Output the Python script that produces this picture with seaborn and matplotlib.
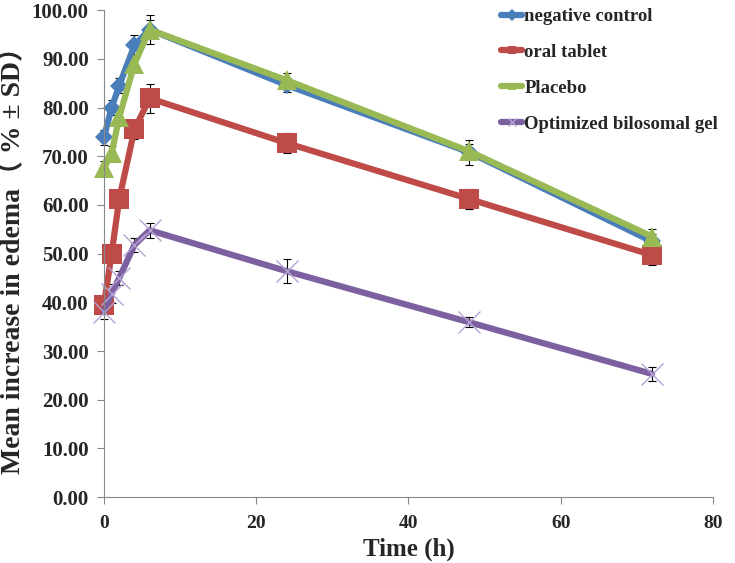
import matplotlib
matplotlib.use("Agg")
import matplotlib.pyplot as plt
import seaborn as sns
import pandas as pd
from matplotlib.lines import Line2D

time_h = [0, 1, 2, 4, 6, 24, 48, 72]
series_names = ["negative control", "oral tablet", "Placebo", "Optimized bilosomal gel"]
neg_control = [73.9, 80.0, 84.5, 92.8, 96.0, 84.6, 70.8, 52.5]
neg_control_sd = [1.5, 1.5, 1.5, 2.0, 3.0, 1.5, 2.5, 1.5]
oral_tablet = [39.5, 50.0, 61.2, 75.5, 81.9, 72.7, 61.2, 49.7]
oral_tablet_sd = [1.5, 1.5, 1.5, 2.0, 3.0, 2.0, 2.0, 2.0]
placebo = [67.5, 70.6, 78.0, 89.0, 96.0, 85.6, 71.0, 53.5]
placebo_sd = [1.5, 1.5, 1.5, 1.5, 2.0, 1.5, 1.5, 1.5]
bilosomal = [38.0, 41.8, 45.0, 51.8, 54.8, 46.4, 35.9, 25.3]
bilosomal_sd = [1.5, 2.0, 1.5, 1.5, 1.5, 2.5, 1.0, 1.5]

values = [neg_control, oral_tablet, placebo, bilosomal]
sds = [neg_control_sd, oral_tablet_sd, placebo_sd, bilosomal_sd]
colors = ["#4A7EBB", "#BE4B48", "#98B954", "#7D60A0"]
markers = ["D", "s", "^", "x"]
msizes = [9, 14, 14, 16]
mecs = ["#4A7EBB", "#BE4B48", "#98B954", "#B3A2D4"]

sns.set_theme(style="white")
plt.rcParams["font.family"] = ["Liberation Serif", "Noto Sans CJK SC", "DejaVu Sans"]
plt.rcParams["font.weight"] = "bold"

fig = plt.figure(figsize=(7.35, 5.63), dpi=100)
ax = fig.add_axes([0.1415, 0.117, 0.8285, 0.865])

for name, vals, sd, c, m, ms, mec in zip(series_names, values, sds, colors, markers, msizes, mecs):
    df = pd.DataFrame({"t": time_h, "v": vals})
    eb = ax.errorbar(time_h, vals, yerr=sd, fmt="none", ecolor="black", elinewidth=0.8,
                     capsize=3, capthick=0.8, zorder=1)
    for art in list(eb.lines[1]) + list(eb.lines[2]):
        art.set_clip_on(False)
    sns.lineplot(data=df, x="t", y="v", ax=ax, color=c, linewidth=4.5, marker=m,
                 markersize=ms, markeredgecolor=mec, markeredgewidth=1.0 if m == "x" else 0,
                 label=name, zorder=2, clip_on=False)

ax.set_xlim(0, 80)
ax.set_ylim(0, 100)
ax.set_xticks([0, 20, 40, 60, 80])
ax.set_yticks(range(0, 101, 10))
ax.set_yticklabels([f"{v:.2f}" for v in range(0, 101, 10)])
ax.tick_params(axis="both", direction="out", length=5, width=0.8,
               color="#888888", left=True, bottom=True)
ax.tick_params(axis="y", labelsize=15, pad=6)
ax.tick_params(axis="x", labelsize=14, pad=8)
for lab in ax.get_xticklabels() + ax.get_yticklabels():
    lab.set_fontweight("bold")
for s in ["top", "right"]:
    ax.spines[s].set_visible(False)
for s in ["left", "bottom"]:
    ax.spines[s].set_color("#888888")
    ax.spines[s].set_linewidth(0.8)

ax.set_xlabel("Time (h)", fontsize=18, fontweight="bold", labelpad=4)
ax.set_ylabel("Mean increase in edema（ % ± SD）", fontsize=20, fontweight="bold")
ax.yaxis.set_label_coords(-0.128, 0.5)

handles = [Line2D([0], [0], color=c, linewidth=4.5, marker=m, markersize=6,
                  markeredgecolor=mec, markeredgewidth=1.0 if m == "x" else 0)
           for c, m, mec in zip(colors, markers, mecs)]
ax.legend(handles, series_names, loc="upper left", bbox_to_anchor=(0.624, 1.039),
          frameon=False, prop={"weight": "bold", "size": 13.5},
          handlelength=1.15, handletextpad=0.1, labelspacing=1.0)

fig.savefig("out.png", dpi=100)
